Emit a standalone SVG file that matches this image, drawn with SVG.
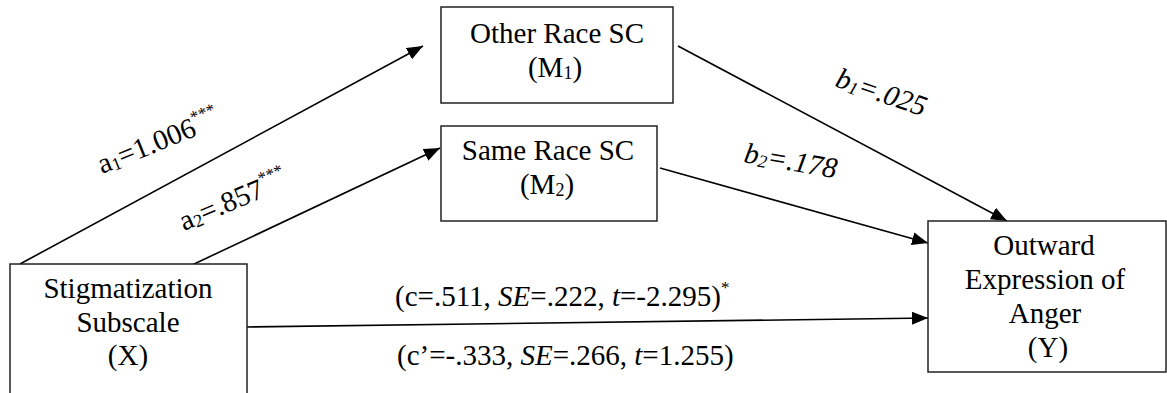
<svg xmlns="http://www.w3.org/2000/svg" width="1167" height="393" viewBox="0 0 1167 393" font-family="'Liberation Serif', 'DejaVu Serif', serif">
<defs>
<marker id="arr" markerUnits="userSpaceOnUse" markerWidth="16" markerHeight="13" refX="16" refY="6.5" orient="auto">
<path d="M0,0 L16,6.5 L0,13 z" fill="#000"/>
</marker>
</defs>
<style>
.box{fill:#fff;stroke:#222;stroke-width:1.5}
.t{font-family:'Liberation Serif','DejaVu Serif',serif;font-size:29px;fill:#000}
.c{text-anchor:middle}
.ln{stroke:#000;stroke-width:1.6;fill:none;marker-end:url(#arr)}
.sub{font-size:18px}
.sup{font-size:17px}
.i{font-style:italic}
</style>
<rect width="1167" height="393" fill="#fff"/>
<g id="connectors">
<line class="ln" x1="20" y1="264" x2="423" y2="46"/>
<line class="ln" x1="192" y1="265" x2="440" y2="148"/>
<line class="ln" x1="678" y1="46" x2="1007" y2="221"/>
<line class="ln" x1="660" y1="168" x2="928" y2="243"/>
<line class="ln" x1="247" y1="327" x2="928" y2="318"/>
</g>
<g id="node-X">
<rect class="box" x="10" y="264" width="237" height="140"/>
<text class="t c" x="128" y="298">Stigmatization</text>
<text class="t c" x="128" y="332">Subscale</text>
<text class="t c" x="128" y="365">(X)</text>
</g>
<g id="node-M1">
<rect class="box" x="441" y="7" width="232" height="96"/>
<text class="t c" x="557" y="43">Other Race SC</text>
<text class="t c" x="555" y="77">(M<tspan class="sub" dy="2">1</tspan><tspan dy="-2">)</tspan></text>
</g>
<g id="node-M2">
<rect class="box" x="441" y="126" width="216" height="95"/>
<text class="t c" x="548" y="160">Same Race SC</text>
<text class="t c" x="547" y="194">(M<tspan class="sub" dy="2">2</tspan><tspan dy="-2">)</tspan></text>
</g>
<g id="node-Y">
<rect class="box" x="928" y="221" width="238" height="151"/>
<text class="t c" x="1044" y="255">Outward</text>
<text class="t c" x="1045" y="289">Expression of</text>
<text class="t c" x="1045" y="323">Anger</text>
<text class="t c" x="1048" y="357">(Y)</text>
</g>
<g id="labels">
<text class="t" transform="translate(102,174) rotate(-22)">a<tspan class="sub" dy="2">1</tspan><tspan dy="-2">=1.006</tspan><tspan class="sup" dy="-13">***</tspan></text>
<text class="t" transform="translate(184,231) rotate(-23)">a<tspan class="sub" dy="2">2</tspan><tspan dy="-2">=.857</tspan><tspan class="sup" dy="-13">***</tspan></text>
<text class="t i" transform="translate(834,86) rotate(19)">b<tspan class="sub" dy="2">1</tspan><tspan dy="-2">=.025</tspan></text>
<text class="t i" transform="translate(743,162) rotate(10)">b<tspan class="sub" dy="2">2</tspan><tspan dy="-2">=.178</tspan></text>
<text class="t" x="395" y="306">(c=.511, <tspan class="i">SE</tspan>=.222, <tspan class="i">t</tspan>=-2.295)<tspan class="sup" dy="-13">*</tspan></text>
<text class="t" x="397" y="365">(c’=-.333, <tspan class="i">SE</tspan>=.266, <tspan class="i">t</tspan>=1.255)</text>
</g>
</svg>
